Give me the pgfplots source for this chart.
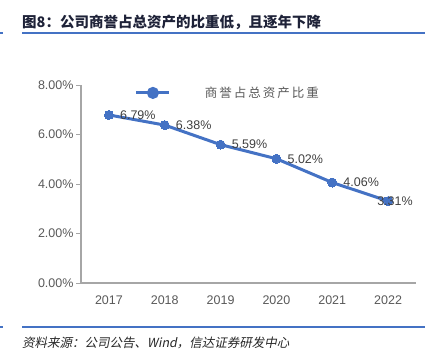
\documentclass[border=0pt]{standalone}
\usepackage{pgfplots}
\pgfplotsset{compat=1.18}
\usepackage{fontspec}
\setmainfont{Liberation Sans}
\newfontfamily\cjk{Noto Sans CJK SC}
\newfontfamily\cjkleg[LetterSpace=16]{Noto Sans CJK SC}
\newfontfamily\cjkit[FakeSlant=0.2]{Noto Sans CJK SC}
\definecolor{lineblue}{HTML}{4472C4}
\definecolor{axgray}{HTML}{A6A6A6}
\definecolor{txtgray}{HTML}{595959}
\definecolor{lblgray}{HTML}{404040}
\definecolor{titlec}{HTML}{1E2238}

\pgfplotstableread{
x y
0 6.79
1 6.38
2 5.59
3 5.02
4 4.06
5 3.31
}\ratio

\begin{document}
\begin{tikzpicture}[x=1pt,y=1pt]
\path[use as bounding box] (0,0) rectangle (441,359);
% title
\node[anchor=west, inner sep=0pt, text=titlec, font=\cjk\bfseries\fontsize{14.5}{16}\selectfont] at (22,359-22) {图8：公司商誉占总资产的比重低，且逐年下降};
\draw[lineblue, line width=1.5pt] (22,359-33) -- (425,359-33);
\draw[lineblue, line width=1.5pt] (0,359-33) -- (3,359-33);
% source
\draw[lineblue, line width=1.5pt] (22,359-327) -- (425,359-327);
\draw[lineblue, line width=1.5pt] (0,359-327) -- (3,359-327);
\node[anchor=west, inner sep=0pt, text=black!85, font=\cjkit\fontsize{12.5}{14}\selectfont] at (22,359-343) {资料来源：公司公告、Wind，信达证券研发中心};

\begin{axis}[
  at={(81pt,76pt)}, anchor=south west,
  scale only axis, width=335pt, height=198pt,
  xmin=-0.5, xmax=5.5, ymin=0, ymax=8,
  axis x line*=bottom, axis y line*=left,
  axis line style={axgray, line width=1.5pt},
  xtick={0,1,2,3,4,5},
  xticklabels={2017,2018,2019,2020,2021,2022},
  x tick style={draw=none},
  ytick={0,2,4,6,8},
  yticklabels={0.00\%,2.00\%,4.00\%,6.00\%,8.00\%},
  y tick style={axgray, line width=1pt},
  tick align=outside, major tick length=5pt,
  ticklabel style={text=txtgray, font=\fontsize{12.5}{14}\selectfont},
  xticklabel style={yshift=-4pt},
  yticklabel style={xshift=1pt},
  clip=false,
  legend style={draw=none, fill=none, at={(axis description cs:0.161,0.96)}, anchor=west,
    inner sep=0pt, outer sep=0pt,
    nodes={inner sep=0pt, text=txtgray, font=\cjkleg\fontsize{12.5}{14}\selectfont},
    /tikz/every odd column/.append style={column sep=34pt}},
  legend image code/.code={
    \draw[lineblue, line width=3pt] (0pt,0pt) -- (33pt,0pt);
    \fill[lineblue] (16.5pt,0pt) circle (4.5pt);
  },
]
\addplot[lineblue, line width=3pt, mark=*, mark size=4.5pt, mark options={fill=lineblue, draw=lineblue, line width=0pt}] table[x=x,y=y] {\ratio};
\addlegendentry{商誉占总资产比重}
\addplot[forget plot, draw=none, restrict x to domain=0:4, point meta=y,
  nodes near coords={\pgfmathprintnumber[fixed,fixed zerofill,precision=2,assume math mode=true]{\pgfplotspointmeta}\%},
  every node near coord/.append style={anchor=west, xshift=11pt, inner sep=0pt, text=lblgray, font=\fontsize{12.5}{14}\selectfont}]
  table[x=x,y=y] {\ratio};
\addplot[forget plot, draw=none, restrict x to domain=5:5, point meta=y,
  nodes near coords={\pgfmathprintnumber[fixed,fixed zerofill,precision=2,assume math mode=true]{\pgfplotspointmeta}\%},
  every node near coord/.append style={anchor=west, xshift=-11pt, inner sep=0pt, text=lblgray, font=\fontsize{12.5}{14}\selectfont}]
  table[x=x,y=y] {\ratio};
\end{axis}
\end{tikzpicture}
\end{document}
